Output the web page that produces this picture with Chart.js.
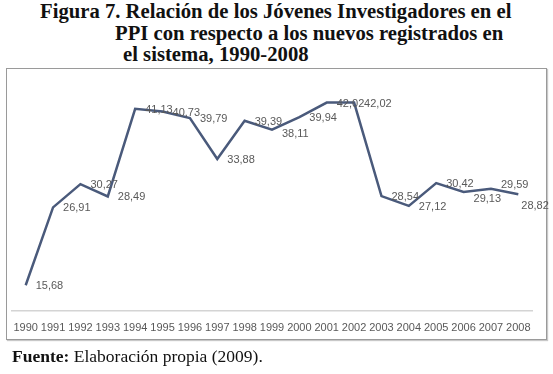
<!DOCTYPE html>
<html>
<head>
<meta charset="utf-8">
<script src="https://cdn.jsdelivr.net/npm/chart.js@4"></script>
<style>
  body { margin: 0; background: #fff; }
  #wrap { position: relative; width: 553px; height: 374px; overflow: hidden; }
  .title { position: absolute; font-family: "Liberation Serif", "Times New Roman", serif; font-weight: bold; font-size: 20.7px; color: #111; white-space: nowrap; line-height: 22px; }
  #box { position: absolute; left: 6px; top: 68px; width: 539px; height: 270px; border: 1px solid #9a9a9a; box-shadow: 1px 1px 1px #c8c8c8; }
  #myChart { position: absolute; left: 0; top: 0; }
  #fuente { position: absolute; left: 12px; top: 346px; font-family: "Liberation Serif", "Times New Roman", serif; font-size: 17.5px; color: #111; white-space: nowrap; }
</style>
</head>
<body>
<div id="wrap">
  <div class="title" style="left:40px; top:0px;">Figura 7. Relación de los Jóvenes Investigadores en el</div>
  <div class="title" style="left:115px; top:22px;">PPI con respecto a los nuevos registrados en</div>
  <div class="title" style="left:123px; top:43px;">el sistema, 1990-2008</div>
  <div id="box"></div>
  <canvas id="myChart" width="553" height="374"></canvas>
  <div id="fuente"><b>Fuente:</b> Elaboración propia (2009).</div>
</div>
<script>
// Years on the x axis
const years = ['1990', '1991', '1992', '1993', '1994', '1995', '1996', '1997', '1998', '1999',
               '2000', '2001', '2002', '2003', '2004', '2005', '2006', '2007', '2008'];
// Percent of young researchers among new registrations
const values = [15.68, 26.91, 30.27, 28.49, 41.13, 40.73, 39.79, 33.88, 39.39, 38.11,
                39.94, 42.02, 42.02, 28.54, 27.12, 30.42, 29.13, 29.59, 28.82];

// where a label needs nudging from its default spot (right of the point)
const labelNudge = { 9: [0, 3], 16: [0, 6], 17: [0, -5], 18: [-7, 11] };

// draws the value next to each point, excel style
const valueLabels = {
    id: 'valueLabels',
    afterDatasetsDraw(chart) {
        const ctx = chart.ctx;
        const meta = chart.getDatasetMeta(0);
        ctx.save();
        ctx.font = '11px "Liberation Sans", Arial, sans-serif';
        ctx.fillStyle = '#595959';
        ctx.textAlign = 'left';
        ctx.textBaseline = 'middle';
        meta.data.forEach((pt, i) => {
            const n = labelNudge[i] || [0, 0];
            const txt = values[i].toFixed(2).replace('.', ',');
            ctx.fillText(txt, pt.x + 10 + n[0], pt.y + 1 + n[1]);
        });
        ctx.restore();
    }
};

const ctx = document.getElementById('myChart').getContext('2d');
const chart = new Chart(ctx, {
    type: 'line',
    data: {
        labels: years,
        datasets: [{
            data: values,
            borderColor: '#4a5a7b',
            borderWidth: 2.5,
            pointRadius: 0,
            tension: 0,
            fill: false
        }]
    },
    options: {
        responsive: false,
        animation: false,
        layout: { padding: { left: 12, right: 21, top: 75, bottom: 36 } },
        plugins: {
            legend: { display: false },
            tooltip: { enabled: false },
            title: { display: false }
        },
        scales: {
            y: { display: false, min: 12, max: 46 },
            x: {
                offset: true,
                grid: { display: false },
                border: { color: '#d4d4d4', width: 1.5 },
                ticks: {
                    color: '#595959',
                    font: { family: '"Liberation Sans", Arial, sans-serif', size: 11 },
                    padding: 3,
                    maxRotation: 0,
                    autoSkip: false
                }
            }
        }
    },
    plugins: [valueLabels]
});
</script>
</body>
</html>
